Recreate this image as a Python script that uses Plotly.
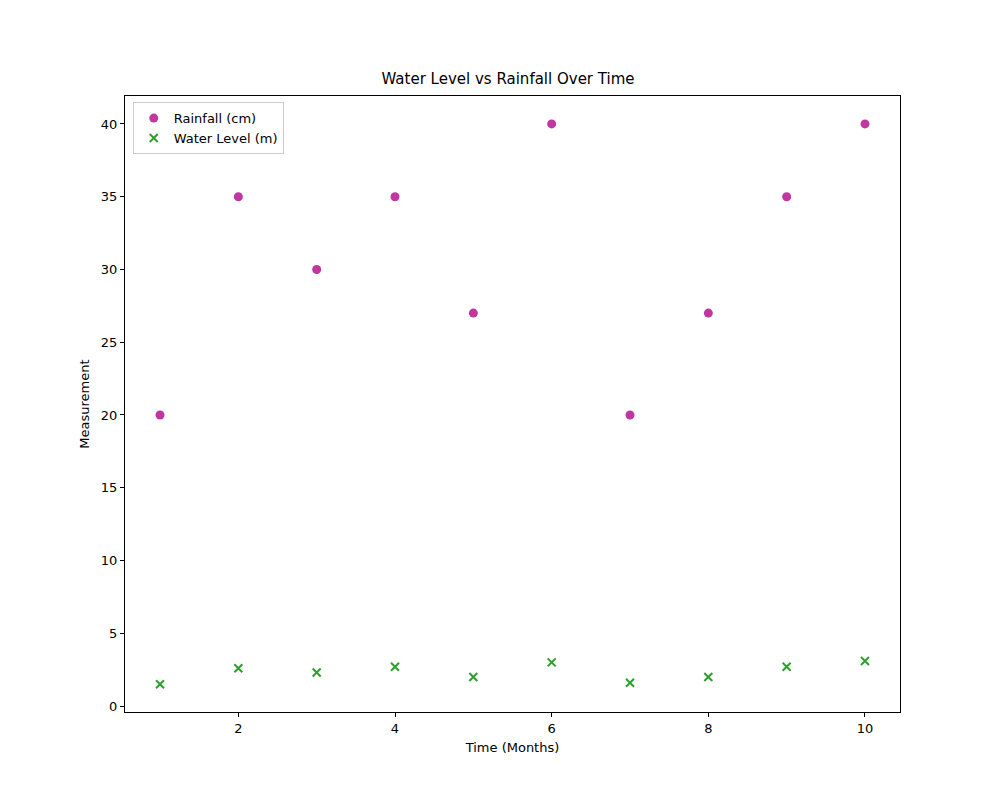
import plotly.graph_objects as go

months = [1, 2, 3, 4, 5, 6, 7, 8, 9, 10]
rainfall = [20, 35, 30, 35, 27, 40, 20, 27, 35, 40]
water_level = [1.5, 2.6, 2.3, 2.7, 2.0, 3.0, 1.6, 2.0, 2.7, 3.1]

fig = go.Figure()
fig.add_trace(go.Scatter(x=months, y=rainfall, mode="markers", name="Rainfall (cm)",
                         marker=dict(color="#c037a0", size=9)))
fig.add_trace(go.Scatter(x=months, y=water_level, mode="markers", name="Water Level (m)",
                         marker=dict(color="#2ca02c", size=8, symbol="x-thin",
                                     line=dict(color="#2ca02c", width=2))))

axis_style = dict(showgrid=False, zeroline=False, showline=True, mirror=True,
                  linecolor="black", linewidth=1, ticks="outside", ticklen=4,
                  tickcolor="black")
fig.update_layout(
    width=1000, height=800, plot_bgcolor="white", paper_bgcolor="white",
    font=dict(family="DejaVu Sans", size=13, color="black"),
    title=dict(text="Water Level vs Rainfall Over Time", x=0.5, xanchor="center",
               y=0.905, yanchor="bottom", font=dict(size=15)),
    margin=dict(l=117, r=108, t=88, b=96),
    xaxis=dict(axis_style, range=[0.553, 10.447], tickvals=[2, 4, 6, 8, 10],
               title=dict(text="Time (Months)", standoff=8, font=dict(size=13))),
    yaxis=dict(axis_style, range=[-0.41, 41.92], tickvals=list(range(0, 45, 5)),
               title=dict(text="Measurement", standoff=8, font=dict(size=13))),
    legend=dict(x=0.01, y=0.99, xanchor="left", yanchor="top",
                bordercolor="#cccccc", borderwidth=1, bgcolor="white"),
)
fig.write_html("out.html")
